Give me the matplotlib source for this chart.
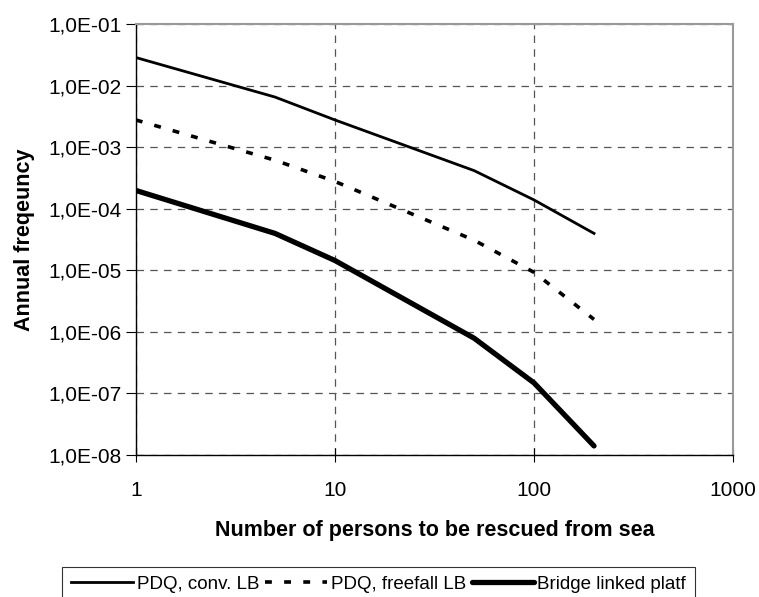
import numpy as np
import matplotlib.pyplot as plt
from matplotlib.ticker import FixedLocator, FuncFormatter, NullLocator

plt.rcParams['font.family'] = ['Liberation Sans', 'DejaVu Sans']

persons = [1, 5, 10, 50, 100, 200]
conv_lb = [2.9e-2, 6.6e-3, 2.8e-3, 4.2e-4, 1.4e-4, 4.0e-5]
freefall_lb = [2.8e-3, 6.2e-4, 2.8e-4, 3.1e-5, 9.3e-6, 1.6e-6]
bridge = [2.0e-4, 4.0e-5, 1.45e-5, 7.9e-7, 1.48e-7, 1.4e-8]
labels = ['PDQ, conv. LB', 'PDQ, freefall LB', 'Bridge linked platf']

fig = plt.figure(figsize=(7.59, 5.97), dpi=100)
ax = fig.add_axes([0.179, 0.238, 0.787, 0.721])

ax.plot(persons, conv_lb, color='black', lw=2.0, label=labels[0])
ax.plot(persons, freefall_lb, color='black', lw=2.6, linestyle=(0, (1.9, 3.4)),
        label=labels[1])
ax.plot(persons, bridge, color='black', lw=3.8, label=labels[2],
        solid_capstyle='round')

ax.set_xscale('log')
ax.set_yscale('log')
ax.set_xlim(1, 1000)
ax.set_ylim(1e-8, 1e-1)

ax.xaxis.set_major_locator(FixedLocator([1, 10, 100, 1000]))
ax.xaxis.set_minor_locator(NullLocator())
ax.yaxis.set_major_locator(FixedLocator([10.0 ** k for k in range(-8, 0)]))
ax.yaxis.set_minor_locator(NullLocator())
ax.xaxis.set_major_formatter(FuncFormatter(lambda v, p: '%d' % round(v)))
ax.yaxis.set_major_formatter(
    FuncFormatter(lambda v, p: '1,0E-%02d' % round(-np.log10(v))))

ax.grid(True, which='major', color='#555555', linestyle=(0, (6, 5)), lw=0.9)
ax.tick_params(axis='y', direction='out', length=7, labelsize=15, pad=3)
ax.tick_params(axis='x', direction='inout', length=10, labelsize=15, pad=14)

for s in ['top', 'right']:
    ax.spines[s].set_color('#999999')
    ax.spines[s].set_linewidth(1.5)
for s in ['left', 'bottom']:
    ax.spines[s].set_color('black')
    ax.spines[s].set_linewidth(1.0)

ax.set_xlabel('Number of persons to be rescued from sea', fontsize=15.5,
              fontweight='bold', labelpad=14)
ax.set_ylabel('Annual freqeuncy', fontsize=15.5, fontweight='bold', labelpad=10)

leg = fig.legend(loc='upper center', bbox_to_anchor=(0.499, 0.051), ncol=3,
                 fontsize=13.5, frameon=True, fancybox=False, edgecolor='black',
                 handlelength=3.3, handletextpad=0.2, columnspacing=0.3,
                 borderpad=0.5, borderaxespad=0)
leg.get_frame().set_linewidth(0.8)

fig.savefig('out.png', dpi=100)
